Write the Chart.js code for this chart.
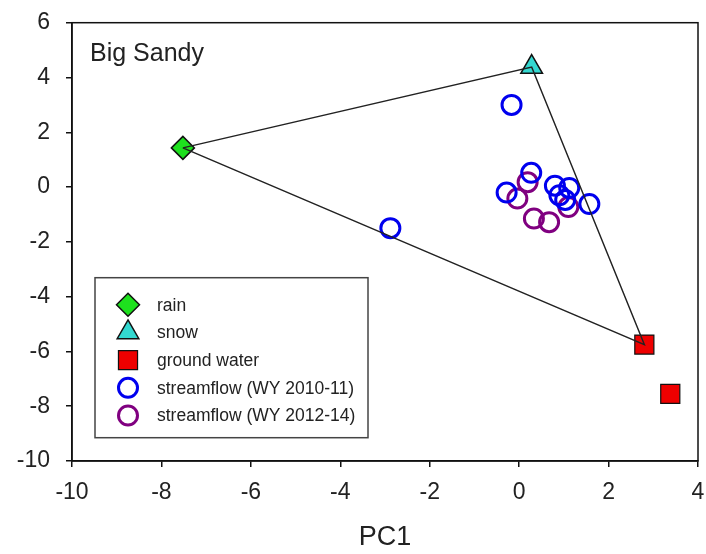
<!DOCTYPE html>
<html>
<head>
<meta charset="utf-8">
<script src="https://cdn.jsdelivr.net/npm/chart.js@4.4.0/dist/chart.umd.min.js"></script>
<style>
  html, body { margin: 0; padding: 0; background: #fff; overflow: hidden; }
  canvas { display: block; }
</style>
</head>
<body>
<canvas id="pca" width="706" height="554"></canvas>
<script>
// end members
const rain = [{x: -7.52, y: 1.43}];
const snow = [{x: 0.28, y: 4.38}];
const groundWater = [{x: 2.8, y: -5.75}, {x: 3.38, y: -7.55}];

// streamflow samples
const flow1011 = [
  {x: -2.88, y: -1.5}, {x: -0.17, y: 3.0}, {x: 0.27, y: 0.52},
  {x: -0.28, y: -0.2}, {x: 0.8, y: 0.05}, {x: 1.12, y: -0.03},
  {x: 0.9, y: -0.3}, {x: 1.03, y: -0.47}, {x: 1.57, y: -0.62}
];
const flow1214 = [
  {x: 0.19, y: 0.18}, {x: -0.04, y: -0.42}, {x: 0.33, y: -1.15},
  {x: 0.67, y: -1.28}, {x: 1.1, y: -0.73}
];

const xTicks = [-10, -8, -6, -4, -2, 0, 2, 4];
const yTicks = [-10, -8, -6, -4, -2, 0, 2, 4, 6];

const FONT = "'Liberation Sans', Arial, sans-serif";

// mixing triangle rain -> snow -> ground water -> rain
const hull = [rain[0], snow[0], groundWater[0], rain[0]];

const legendItems = [
  {label: 'rain', idx: 1},
  {label: 'snow', idx: 2},
  {label: 'ground water', idx: 3},
  {label: 'streamflow (WY 2010-11)', idx: 4},
  {label: 'streamflow (WY 2012-14)', idx: 5}
];

function noPad(s) {
  s.paddingTop = 0; s.paddingBottom = 0; s.paddingLeft = 0; s.paddingRight = 0;
}

const extras = {
  id: 'extras',
  afterDraw(chart) {
    const ctx = chart.ctx;
    const a = chart.chartArea;
    ctx.save();
    // frame
    ctx.strokeStyle = '#111';
    ctx.lineWidth = 1.5;
    ctx.strokeRect(a.left, a.top, a.right - a.left, a.bottom - a.top);

    // panel label
    ctx.fillStyle = '#222';
    ctx.font = '25px ' + FONT;
    ctx.textBaseline = 'alphabetic';
    ctx.textAlign = 'left';
    ctx.fillText('Big Sandy', a.left + 18, a.top + 38);

    // legend box
    const lx = a.left + 23, ly = a.top + 255, lw = 273, lh = 160;
    ctx.fillStyle = '#fff';
    ctx.fillRect(lx, ly, lw, lh);
    ctx.strokeStyle = '#444';
    ctx.lineWidth = 1.5;
    ctx.strokeRect(lx, ly, lw, lh);

    ctx.font = '17.5px ' + FONT;
    ctx.textBaseline = 'middle';
    legendItems.forEach((it, i) => {
      const ds = chart.data.datasets[it.idx];
      const cy = ly + 27 + i * 27.7;
      const cx = lx + 33;
      ctx.fillStyle = ds.backgroundColor;
      ctx.strokeStyle = ds.borderColor;
      ctx.lineWidth = ds.borderWidth;
      Chart.helpers.drawPoint(ctx, {
        pointStyle: ds.pointStyle,
        radius: ds.pointRadius,
        borderWidth: ds.borderWidth,
        rotation: 0
      }, cx, cy);
      ctx.fillStyle = '#222';
      ctx.fillText(it.label, lx + 62, cy + 1);
    });
    ctx.restore();
  }
};

new Chart(document.getElementById('pca'), {
  type: 'scatter',
  data: {
    datasets: [
      {
        type: 'line', data: hull, borderColor: '#222', borderWidth: 1.5,
        pointRadius: 0, tension: 0, fill: false
      },
      {
        data: rain, pointStyle: 'rectRot', pointRadius: 11.5,
        backgroundColor: '#1ee01e', borderColor: '#111', borderWidth: 1.5
      },
      {
        data: snow, pointStyle: 'triangle', pointRadius: 12.5,
        backgroundColor: '#33d8d0', borderColor: '#111', borderWidth: 1.5
      },
      {
        data: groundWater, pointStyle: 'rect', pointRadius: 13.5,
        backgroundColor: '#ee0000', borderColor: '#111', borderWidth: 1.2
      },
      {
        data: flow1011, pointStyle: 'circle', pointRadius: 9.5,
        backgroundColor: 'rgba(0,0,0,0)', borderColor: '#0000ee', borderWidth: 3
      },
      {
        data: flow1214, pointStyle: 'circle', pointRadius: 9.5,
        backgroundColor: 'rgba(0,0,0,0)', borderColor: '#800080', borderWidth: 3
      }
    ]
  },
  options: {
    responsive: false,
    animation: false,
    events: [],
    // autoPadding reserves room for the big markers and pushes the frame in
    layout: {autoPadding: false, padding: {top: 22.7, right: 8, left: 0, bottom: 0}},
    plugins: {legend: {display: false}, tooltip: {enabled: false}},
    scales: {
      x: {
        type: 'linear', min: -10, max: 4,
        afterBuildTicks: s => { s.ticks = xTicks.map(v => ({value: v})); },
        afterFit: s => { s.height = 93; noPad(s); },
        grid: {drawOnChartArea: false, tickLength: 6, color: '#111', lineWidth: 1.5},
        border: {color: '#111', width: 1.5},
        ticks: {color: '#222', font: {size: 23, family: FONT}, padding: 12, maxRotation: 0},
        title: {display: true, text: 'PC1', color: '#222', font: {size: 27, family: FONT},
                padding: {top: 0, bottom: 0}}
      },
      y: {
        type: 'linear', min: -10, max: 6,
        afterBuildTicks: s => { s.ticks = yTicks.map(v => ({value: v})); },
        afterFit: s => { s.width = 72; noPad(s); },
        grid: {drawOnChartArea: false, tickLength: 6, color: '#111', lineWidth: 1.5},
        border: {color: '#111', width: 1.5},
        ticks: {color: '#222', font: {size: 23, family: FONT}, padding: 16}
      }
    }
  },
  plugins: [extras]
});
</script>
</body>
</html>
